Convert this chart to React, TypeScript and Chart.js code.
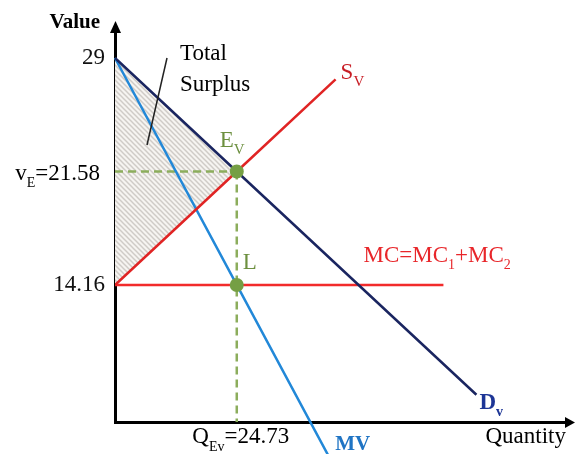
import { useEffect, useRef } from 'react';
import { Chart, registerables } from 'chart.js';

Chart.register(...registerables);

// ---- data ----
const valueTicks = [29, 21.58, 14.16];
const valueTickLabels = ['29', '', '14.16'];
const quantityTicks = [24.73];

const demandQ = [0, 24.73, 73.4];
const demandV = [29, 21.58, 6.98];
const supplyQ = [0, 24.73, 44.8];
const supplyV = [14.16, 21.58, 27.6];
const mvQ = [0, 24.73, 43.3];
const mvV = [29, 14.16, 3.02];
const mcQ = [0, 66.7];
const mcV = [14.16, 14.16];
const surplusTopQ = [0, 24.73];
const surplusTopV = [29, 21.58];
const surplusBottomQ = [0, 24.73];
const surplusBottomV = [14.16, 21.58];
const equilibriumQ = [24.73, 24.73]; // E_V, L
const equilibriumV = [21.58, 14.16];

const valueAxisMin = 5.2;
const valueAxisMax = 30.7;
const quantityAxisMax = 92;

const FAMILY = '"Liberation Serif", "Times New Roman", serif';

const pts = (xs: number[], ys: number[]) => xs.map((x, i) => ({ x, y: ys[i] }));

type Part = { t: string; size: number; bold?: boolean; sub?: number };

function drawRich(
  ctx: CanvasRenderingContext2D,
  parts: Part[],
  x: number,
  y: number,
  color: string,
  align: 'left' | 'right' | 'center' = 'left'
) {
  ctx.save();
  ctx.fillStyle = color;
  ctx.textBaseline = 'alphabetic';
  ctx.textAlign = 'left';
  const fonts = parts.map((p) => `${p.bold ? 'bold ' : ''}${p.size}px ${FAMILY}`);
  const widths = parts.map((p, i) => {
    ctx.font = fonts[i];
    return ctx.measureText(p.t).width;
  });
  const total = widths.reduce((a, b) => a + b, 0);
  let cx = align === 'left' ? x : align === 'right' ? x - total : x - total / 2;
  parts.forEach((p, i) => {
    ctx.font = fonts[i];
    ctx.fillText(p.t, cx, y + (p.sub || 0));
    cx += widths[i];
  });
  ctx.restore();
}

const annotationPlugin = {
  id: 'annotations',
  afterDraw(chart: any) {
    const ctx: CanvasRenderingContext2D = chart.ctx;
    const xs = chart.scales.x;
    const ys = chart.scales.y;
    const area = chart.chartArea;
    const px = (q: number) => xs.getPixelForValue(q);
    const py = (v: number) => ys.getPixelForValue(v);

    // axis arrowheads
    ctx.save();
    ctx.fillStyle = '#000';
    const ax = area.left + 0.5;
    ctx.beginPath();
    ctx.moveTo(ax, area.top - 11);
    ctx.lineTo(ax - 5.5, area.top + 1);
    ctx.lineTo(ax + 5.5, area.top + 1);
    ctx.closePath();
    ctx.fill();
    const ay = area.bottom + 0.5;
    ctx.beginPath();
    ctx.moveTo(area.right + 7, ay);
    ctx.lineTo(area.right - 3, ay - 5.5);
    ctx.lineTo(area.right - 3, ay + 5.5);
    ctx.closePath();
    ctx.fill();
    ctx.restore();

    // axis titles
    drawRich(ctx, [{ t: 'Value', size: 21, bold: true }], area.left - 15, area.top - 4, '#000', 'right');
    drawRich(ctx, [{ t: 'Quantity', size: 23 }], area.right - 2, area.bottom + 21, '#000', 'right');

    // special tick labels
    const qE = quantityTicks[0];
    const vE = valueTicks[1];
    drawRich(
      ctx,
      [
        { t: 'Q', size: 23 },
        { t: 'Ev', size: 14, sub: 8 },
        { t: '=' + qE.toFixed(2), size: 23 },
      ],
      px(qE) + 4,
      area.bottom + 21,
      '#000',
      'center'
    );
    drawRich(
      ctx,
      [
        { t: 'v', size: 23 },
        { t: 'E', size: 14, sub: 7 },
        { t: '=' + vE.toFixed(2), size: 23 },
      ],
      area.left - 15,
      py(vE) + 9,
      '#000',
      'right'
    );

    // Total Surplus label and leader
    const topY = py(demandV[0]);
    drawRich(ctx, [{ t: 'Total', size: 23 }], area.left + 65, topY + 2, '#000');
    drawRich(ctx, [{ t: 'Surplus', size: 23 }], area.left + 65, topY + 33, '#000');
    ctx.save();
    ctx.strokeStyle = '#222';
    ctx.lineWidth = 1.5;
    ctx.beginPath();
    ctx.moveTo(area.left + 52, topY);
    ctx.lineTo(area.left + 32, topY + 87);
    ctx.stroke();
    ctx.restore();

    // point labels
    const ex = px(equilibriumQ[0]);
    const ey = py(equilibriumV[0]);
    drawRich(ctx, [{ t: 'E', size: 23 }, { t: 'V', size: 15, sub: 7 }], ex - 17, ey - 24, '#6d9040');
    const lx = px(equilibriumQ[1]);
    const ly = py(equilibriumV[1]);
    drawRich(ctx, [{ t: 'L', size: 23 }], lx + 6, ly - 16, '#6d9040');

    // curve labels
    const sx = px(supplyQ[supplyQ.length - 1]);
    const sy = py(supplyV[supplyV.length - 1]);
    drawRich(ctx, [{ t: 'S', size: 23 }, { t: 'V', size: 15, sub: 7 }], sx + 5, sy, '#c81e26');

    const dx = px(demandQ[demandQ.length - 1]);
    const dy = py(demandV[demandV.length - 1]);
    drawRich(ctx, [{ t: 'D', size: 23, bold: true }, { t: 'v', size: 14, bold: true, sub: 7 }], dx + 3, dy + 14, '#1d3596');

    const mx = px(mcQ[mcQ.length - 1]);
    const my = py(mcV[mcV.length - 1]);
    drawRich(
      ctx,
      [
        { t: 'MC=MC', size: 23 },
        { t: '1', size: 14, sub: 7 },
        { t: '+MC', size: 23 },
        { t: '2', size: 14, sub: 7 },
      ],
      mx - 80,
      my - 23,
      '#e8262a'
    );

    const vx = px(mvQ[mvQ.length - 1]);
    const vy = py(mvV[mvV.length - 1]);
    drawRich(ctx, [{ t: 'MV', size: 21, bold: true }], vx + 7, vy - 5, '#1f74c4');
  },
};

export default function App() {
  const ref = useRef<HTMLCanvasElement>(null);

  useEffect(() => {
    document.body.style.margin = '0';
    const canvas = ref.current!;

    const tile = document.createElement('canvas');
    tile.width = 5;
    tile.height = 5;
    const tctx = tile.getContext('2d')!;
    tctx.fillStyle = '#f6f4f1';
    tctx.fillRect(0, 0, 5, 5);
    tctx.strokeStyle = '#cfcbc7';
    tctx.lineWidth = 1.5;
    for (const k of [-5, 0, 5]) {
      tctx.beginPath();
      tctx.moveTo(k - 1, -1);
      tctx.lineTo(k + 6, 6);
      tctx.stroke();
    }
    const pattern = canvas.getContext('2d')!.createPattern(tile, 'repeat');

    const line = (color: string, width = 2.5) => ({
      borderColor: color,
      borderWidth: width,
      pointRadius: 0,
      fill: false,
      tension: 0,
    });

    const chart = new Chart(canvas, {
      type: 'line',
      data: {
        datasets: [
          {
            label: 'Equilibria',
            data: pts(equilibriumQ, equilibriumV),
            showLine: false,
            pointRadius: 7,
            pointBackgroundColor: '#759f44',
            pointBorderWidth: 0,
            order: 0,
          } as any,
          { label: 'D', data: pts(demandQ, demandV), ...line('#1a2560'), order: 2 },
          { label: 'S', data: pts(supplyQ, supplyV), ...line('#e02424'), order: 2 },
          { label: 'MC', data: pts(mcQ, mcV), ...line('#f22b2b'), order: 2 },
          { label: 'MV', data: pts(mvQ, mvV), ...line('#2288d8'), order: 2, clip: false as any },
          {
            label: 'vE',
            data: pts([0, equilibriumQ[0]], [equilibriumV[0], equilibriumV[0]]),
            ...line('#8cad5c', 2.5),
            borderDash: [8, 5],
            order: 3,
          },
          {
            label: 'QE',
            data: pts([equilibriumQ[0], equilibriumQ[0]], [equilibriumV[0], valueAxisMin]),
            ...line('#8cad5c', 2.5),
            borderDash: [8, 5],
            order: 3,
          },
          {
            label: 'Surplus top',
            data: pts(surplusTopQ, surplusTopV),
            borderWidth: 0,
            pointRadius: 0,
            fill: '+1',
            backgroundColor: pattern as any,
            order: 5,
          },
          {
            label: 'Surplus bottom',
            data: pts(surplusBottomQ, surplusBottomV),
            borderWidth: 0,
            pointRadius: 0,
            fill: false,
            order: 5,
          },
        ],
      },
      options: {
        responsive: false,
        animation: false,
        devicePixelRatio: 1,
        layout: { padding: { left: 0, top: 32, right: 6, bottom: 0 } },
        plugins: {
          legend: { display: false },
          tooltip: { enabled: false },
        },
        scales: {
          x: {
            type: 'linear',
            position: 'bottom',
            min: 0,
            max: quantityAxisMax,
            z: 1,
            grid: { display: false, drawTicks: false },
            border: { display: true, color: '#000', width: 3 },
            ticks: { display: false },
            afterBuildTicks: (s: any) => {
              s.ticks = quantityTicks.map((v) => ({ value: v }));
            },
            afterFit: (s: any) => {
              s.height = 32;
            },
          },
          y: {
            type: 'linear',
            position: 'left',
            min: valueAxisMin,
            max: valueAxisMax,
            z: 1,
            grid: { display: false, drawTicks: false },
            border: { display: true, color: '#000', width: 3 },
            ticks: {
              autoSkip: false,
              padding: 10,
              color: '#111',
              font: { family: FAMILY, size: 23 },
              callback: (value: any) => {
                const i = valueTicks.findIndex((t) => Math.abs(t - Number(value)) < 1e-6);
                return i >= 0 ? valueTickLabels[i] : '';
              },
            },
            afterBuildTicks: (s: any) => {
              s.ticks = valueTicks.map((v) => ({ value: v }));
            },
            afterFit: (s: any) => {
              s.width = 115;
            },
          },
        },
      } as any,
      plugins: [annotationPlugin],
    });

    return () => chart.destroy();
  }, []);

  return <canvas ref={ref} width={575} height={454} style={{ display: 'block' }} />;
}
